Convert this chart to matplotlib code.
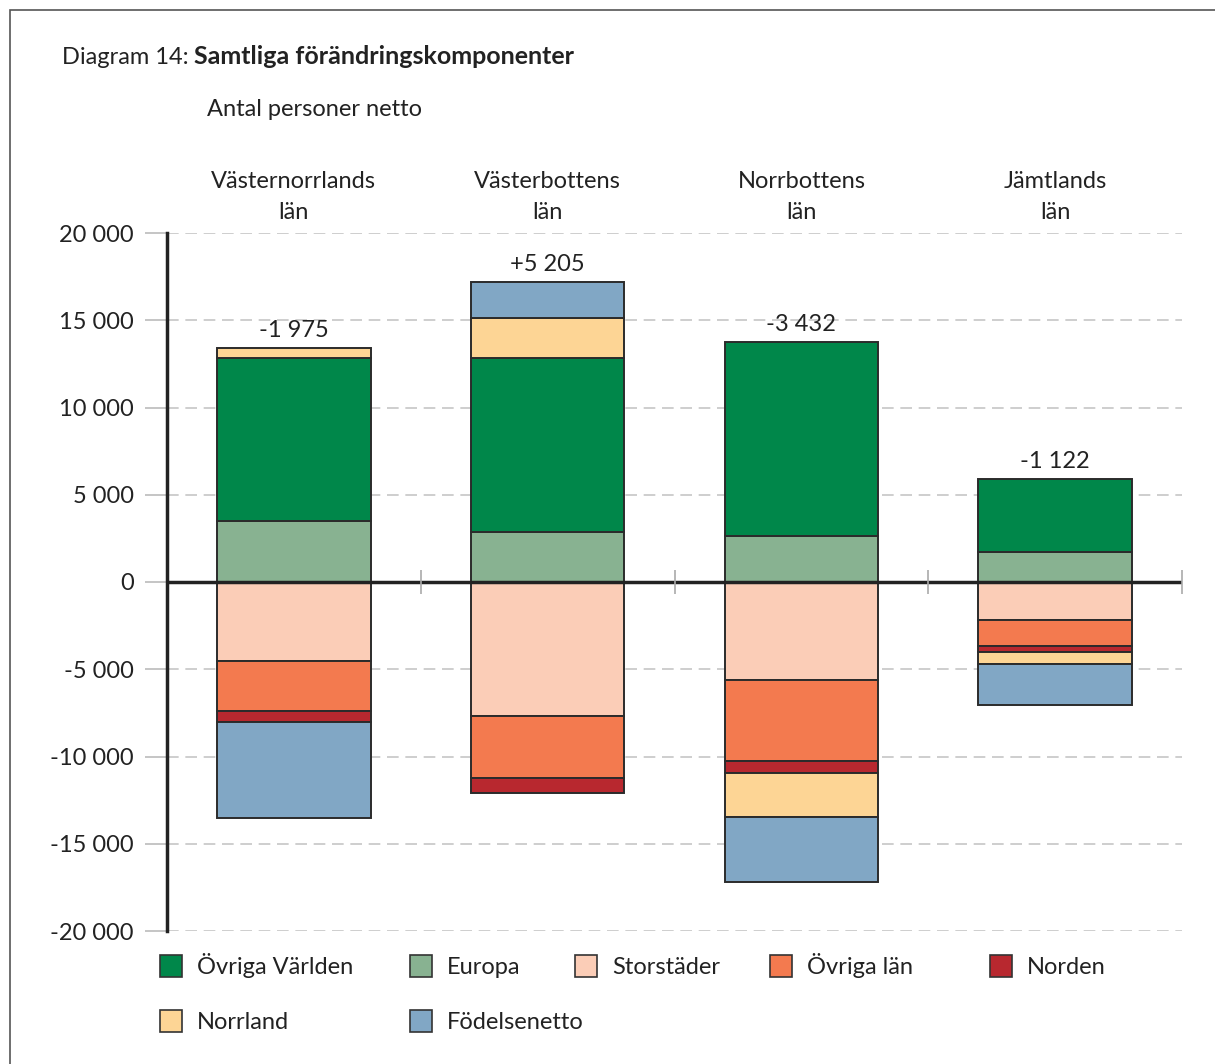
import matplotlib
matplotlib.use("Agg")
from matplotlib import pyplot as plt
from matplotlib.patches import Rectangle
from matplotlib.ticker import FuncFormatter
import matplotlib.transforms as mtransforms
import numpy as np

plt.rcParams['font.family'] = ['Lato', 'DejaVu Sans']

# kategorier (län) och etiketter
lan = ['Västernorrlands\nlän', 'Västerbottens\nlän', 'Norrbottens\nlän', 'Jämtlands\nlän']
netto_text = ['-1 975', '+5 205', '-3 432', '-1 122']

# komponenter, antal personer netto
europa = [3500, 2865, 2650, 1740]
ovriga_varlden = [9340, 9975, 11090, 4145]
storstader = [-4530, -7680, -5615, -2160]
ovriga_lan = [-2860, -3550, -4625, -1510]
norden = [-630, -860, -690, -360]
norrland = [570, 2290, -2540, -670]
fodelsenetto = [-5500, 2060, -3700, -2330]

# staplingsordning (nerifrån och upp / uppifrån och ner)
serier = [
    ('Europa', europa, '#88B291'),
    ('Övriga Världen', ovriga_varlden, '#00874A'),
    ('Storstäder', storstader, '#FBCDB7'),
    ('Övriga län', ovriga_lan, '#F37A4F'),
    ('Norden', norden, '#B8282F'),
    ('Norrland', norrland, '#FDD595'),
    ('Födelsenetto', fodelsenetto, '#81A7C5'),
]
farg = {namn: f for namn, _, f in serier}

W, H = 1215, 1064
fig = plt.figure(figsize=(W / 100, H / 100), dpi=100)
ax = fig.add_axes([167 / W, 1 - 931 / H, (1182 - 167) / W, 698 / H])

x = np.arange(len(lan))
pos = np.zeros(len(lan))
neg = np.zeros(len(lan))
for namn, vals, f in serier:
    v = np.array(vals, dtype=float)
    bottom = np.where(v >= 0, pos, neg)
    ax.bar(x, v, 0.605, bottom=bottom, color=f, edgecolor='#2b2b2b', linewidth=1.4, zorder=3)
    pos = pos + np.where(v >= 0, v, 0)
    neg = neg + np.where(v < 0, v, 0)

# nettoetiketter ovanför staplarna
for i in range(len(lan)):
    ax.annotate(netto_text[i], (x[i], pos[i]), xytext=(0, 5), textcoords='offset points',
                ha='center', va='bottom', fontsize=17, color='#222222', zorder=5)

# länsnamn ovanför diagrammet
trans = mtransforms.blended_transform_factory(ax.transData, ax.transAxes)
for i in range(len(lan)):
    ax.annotate(lan[i], (x[i], 1.0), xycoords=trans, xytext=(0, 7), textcoords='offset points',
                ha='center', va='bottom', fontsize=17, color='#222222', linespacing=1.62)

ax.set_xlim(-0.5, len(lan) - 0.5)
ax.set_ylim(-20000, 20000)
ax.set_yticks(np.arange(-20000, 20001, 5000))
ax.yaxis.set_major_formatter(FuncFormatter(lambda v, p: f"{int(v):,}".replace(",", " ")))
ax.set_xticks([])
ax.tick_params(axis='y', length=16, width=1.2, color='#bbbbbb', labelsize=17,
               labelcolor='#222222', pad=8)
ax.yaxis.grid(True, color='#c6c6c6', linestyle=(0, (7, 4)), linewidth=1.2, zorder=0)
ax.set_axisbelow(True)

for s in ['top', 'right', 'bottom']:
    ax.spines[s].set_visible(False)
ax.spines['left'].set_linewidth(2.5)
ax.spines['left'].set_color('#222222')

ax.axhline(0, color='#222222', linewidth=2.5, zorder=4)
ax.vlines(np.arange(0.5, len(lan)), -700, 700, color='#aaaaaa', linewidth=1.2, zorder=4,
          clip_on=False)

# rubrik
t1 = fig.text(62 / W, 1 - 57 / H, 'Diagram 14:', fontsize=17, color='#222222', va='center')
ax.annotate('Samtliga förändringskomponenter', xy=(1, 0.5), xycoords=t1, xytext=(4, 0),
            textcoords='offset points', va='center', ha='left', fontsize=18,
            fontweight='bold', color='#222222', annotation_clip=False)
fig.text(207 / W, 1 - 109 / H, 'Antal personer netto', fontsize=17, color='#222222',
         va='center')

# legend, placerad för hand som i originalet
legend_namn = ['Övriga Världen', 'Europa', 'Storstäder', 'Övriga län', 'Norden', 'Norrland', 'Födelsenetto']
legend_pos = [(160, 966), (410, 966), (575, 966), (770, 966), (990, 966), (160, 1021), (410, 1021)]
for namn, (lx, ly) in zip(legend_namn, legend_pos):
    fig.add_artist(Rectangle((lx / W, 1 - (ly + 11) / H), 22 / W, 22 / H, transform=fig.transFigure,
                             facecolor=farg[namn], edgecolor='#333333', linewidth=1.2))
    fig.text((lx + 37) / W, 1 - (ly + 8) / H, namn, fontsize=17, color='#222222',
             va='baseline')

# ram runt figuren
fig.add_artist(Rectangle((10 / W, -0.05), 1.1, 1 - 10 / H + 0.05, transform=fig.transFigure,
                         fill=False, edgecolor='#555555', linewidth=1.2))

fig.savefig('out.png', dpi=100)
